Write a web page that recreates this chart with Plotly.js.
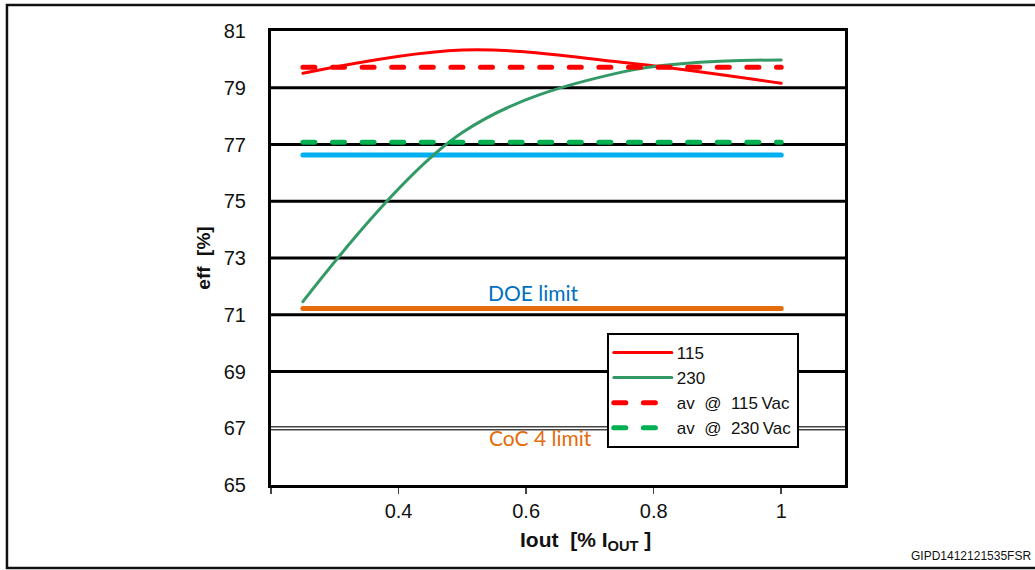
<!DOCTYPE html>
<html>
<head>
<meta charset="utf-8">
<script src="https://cdn.plot.ly/plotly-3.0.1.min.js"></script>
<style>
  html, body { margin: 0; padding: 0; background: #fff; }
  #chart { width: 1035px; height: 570px; }
  #chart path.js-line { stroke-linecap: round; }
</style>
</head>
<body>
<div id="chart"></div>
<script>
// ---- data ----
const loadX = [0.25, 0.5, 0.75, 1.0];
const eff115 = [79.51, 80.33, 79.90, 79.16];
const eff230 = [71.46, 77.42, 79.55, 79.98];
const avg115 = [79.72, 79.72];
const avg230 = [77.08, 77.08];
const limitX = [0.25, 1.0];
const doeLine = [76.63, 76.63];
const cocLine = [71.22, 71.22];
const yTicks = [65, 67, 69, 71, 73, 75, 77, 79, 81];
const xTicks = [0.2, 0.4, 0.6, 0.8, 1.0];
const xTickText = ['', '0.4', '0.6', '0.8', '1'];
const seriesNames = ['115', '230',
  'av\u00a0\u00a0@\u00a0\u00a0115\u2009Vac',
  'av\u00a0\u00a0@\u00a0\u00a0230\u2009Vac'];

const ARIAL = 'Liberation Sans, Arial, sans-serif';

const traces = [
  {x: limitX, y: doeLine, mode: 'lines', showlegend: false, hoverinfo: 'skip',
   line: {color: '#00B0F0', width: 5}},
  {x: limitX, y: cocLine, mode: 'lines', showlegend: false, hoverinfo: 'skip',
   line: {color: '#E46C0A', width: 5}},
  {x: loadX, y: eff115, name: seriesNames[0], mode: 'lines',
   line: {color: '#FF0000', width: 3, shape: 'spline'}},
  {x: loadX, y: eff230, name: seriesNames[1], mode: 'lines',
   line: {color: '#339966', width: 3, shape: 'spline'}},
  {x: limitX, y: avg115, name: seriesNames[2], mode: 'lines',
   line: {color: '#FF0000', width: 5, dash: '12px,17.6px'}},
  {x: limitX, y: avg230, name: seriesNames[3], mode: 'lines',
   line: {color: '#00B050', width: 5, dash: '12px,17.6px'}}
];

// horizontal grid lines (drawn as shapes so the 67 line can be a double line)
const gridShapes = [];
yTicks.slice(1, -1).forEach(v => {
  if (v === 67) {
    gridShapes.push({type: 'line', xref: 'paper', yref: 'y', x0: 0, x1: 1, y0: v, y1: v, layer: 'below',
      line: {color: '#444', width: 4.5}});
    gridShapes.push({type: 'line', xref: 'paper', yref: 'y', x0: 0, x1: 1, y0: v, y1: v, layer: 'below',
      line: {color: '#fff', width: 1.5}});
  } else {
    gridShapes.push({type: 'line', xref: 'paper', yref: 'y', x0: 0, x1: 1, y0: v, y1: v, layer: 'below',
      line: {color: '#000', width: 3}});
  }
});

const layout = {
  width: 1035, height: 570,
  margin: {l: 271, r: 190, t: 31, b: 85},
  paper_bgcolor: '#fff', plot_bgcolor: '#fff',
  font: {family: ARIAL, color: '#111', size: 20},
  showlegend: true,
  legend: {
    x: 0.585, y: 0.335, xanchor: 'left', yanchor: 'top',
    bgcolor: '#fff', bordercolor: '#000', borderwidth: 2,
    font: {family: ARIAL, size: 17, color: '#111'},
    itemwidth: 58, tracegroupgap: 0
  },
  xaxis: {
    range: [0.2, 1.1], tickvals: xTicks, ticktext: xTickText,
    showgrid: false, zeroline: false,
    showline: true, linecolor: '#000', linewidth: 3, mirror: true,
    ticks: 'outside', ticklen: 6, tickwidth: 1.5, tickcolor: '#444',
    tickfont: {family: ARIAL, size: 20, color: '#111'},
    ticklabelstandoff: 0
  },
  yaxis: {
    range: [65, 81], tickvals: yTicks,
    showgrid: false, zeroline: false,
    showline: true, linecolor: '#000', linewidth: 3, mirror: true,
    ticks: '', ticklabelstandoff: 18,
    tickfont: {family: ARIAL, size: 20, color: '#111'},
    title: {text: 'eff  [%]', font: {family: ARIAL, size: 19, color: '#111', weight: 'bold'}, standoff: 9}
  },
  shapes: gridShapes.concat([
    // outer frame
    {type: 'rect', xref: 'paper', yref: 'paper', x0: -0.46, x1: 1.34, y0: -0.183, y1: 1.057,
     line: {color: '#111', width: 2.5}, fillcolor: 'rgba(0,0,0,0)'}
  ]),
  annotations: [
    {x: 0.612, y: 71.77, xref: 'x', yref: 'y', text: 'DOE limit', showarrow: false,
     font: {family: 'Lato, Open Sans, sans-serif', size: 21, color: '#0070C0'}},
    {x: 0.622, y: 66.66, xref: 'x', yref: 'y', text: 'CoC 4 limit', showarrow: false,
     font: {family: 'Lato, Open Sans, sans-serif', size: 21, color: '#E46C0A'}},
    {x: (1033 - 271) / 574, y: (485 - 556) / 454, xref: 'paper', yref: 'paper',
     xanchor: 'right', yanchor: 'middle', text: 'GIPD1412121535FSR', showarrow: false,
     font: {family: ARIAL, size: 12, color: '#111'}},
    // x-axis title
    {x: (585 - 271) / 574, y: (485 - 541) / 454, xref: 'paper', yref: 'paper',
     xanchor: 'center', yanchor: 'middle', showarrow: false,
     text: '<b>Iout&nbsp;&nbsp;[%&nbsp;I<sub>OUT</sub>&nbsp;]</b>',
     font: {family: ARIAL, size: 21, color: '#111'}}
  ]
};

Plotly.newPlot('chart', traces, layout, {staticPlot: true, displayModeBar: false});
</script>
</body>
</html>
